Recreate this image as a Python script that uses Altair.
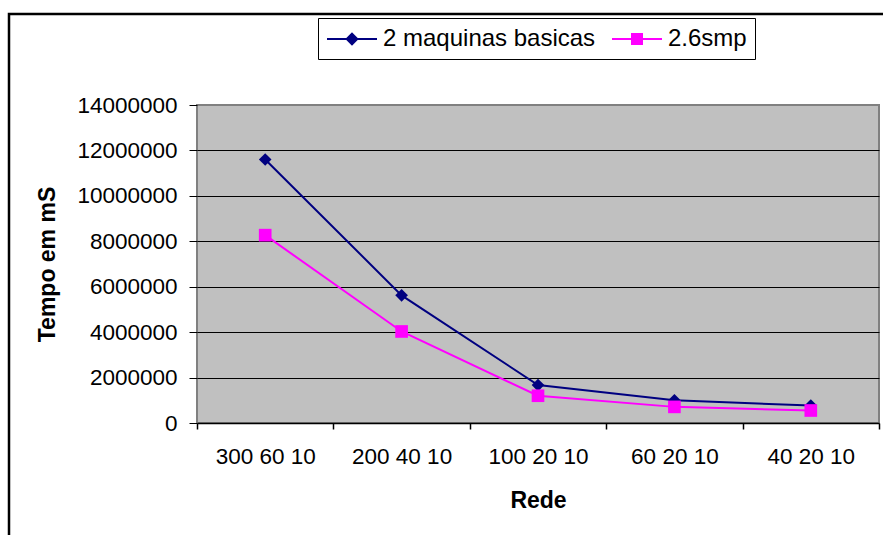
import altair as alt
import pandas as pd

categories = ["300 60 10", "200 40 10", "100 20 10", "60 20 10", "40 20 10"]
series_names = ["2 maquinas basicas", "2.6smp"]
basicas = [11600000, 5620000, 1670000, 1000000, 770000]
smp = [8270000, 4030000, 1200000, 710000, 550000]
colors = ["#000080", "#FF00FF"]
y_ticks = [0, 2000000, 4000000, 6000000, 8000000, 10000000, 12000000, 14000000]

rows = []
for c, v in zip(categories, basicas):
    rows.append({"Rede": c, "serie": series_names[0], "valor": v})
for c, v in zip(categories, smp):
    rows.append({"Rede": c, "serie": series_names[1], "valor": v})
df = pd.DataFrame(rows)

FONT = "Liberation Sans"

x_enc = alt.X(
    "Rede:N",
    sort=categories,
    scale=alt.Scale(type="band", paddingInner=0, paddingOuter=0),
    axis=alt.Axis(
        title="Rede",
        labelAngle=0,
        tickBand="extent",
        domainColor="black",
        domainWidth=1.5,
        tickColor="black",
        tickSize=6,
        tickWidth=1.5,
        labelPadding=16,
        titlePadding=22,
        grid=False,
    ),
)
y_enc = alt.Y(
    "valor:Q",
    scale=alt.Scale(domain=[0, 14000000], nice=False, zero=True),
    axis=alt.Axis(
        title="Tempo em mS",
        values=y_ticks,
        format="d",
        domain=False,
        tickColor="black",
        tickSize=8,
        tickWidth=1,
        labelPadding=12,
        titlePadding=17,
        grid=True,
        gridColor="black",
        gridWidth=1,
        gridOpacity={"condition": {"test": "datum.value >= 14000000 || datum.value <= 0", "value": 0}, "value": 1},
    ),
)

color_scale = alt.Scale(domain=series_names, range=colors)

lines = alt.Chart(df).mark_line(strokeWidth=2).encode(
    x=x_enc,
    y=y_enc,
    color=alt.Color("serie:N", scale=color_scale, legend=None),
)

points = alt.Chart(df).mark_point(filled=True, size=160, opacity=1).encode(
    x=x_enc,
    y=y_enc,
    color=alt.Color("serie:N", scale=color_scale, legend=None),
    shape=alt.Shape("serie:N", scale=alt.Scale(domain=series_names, range=["diamond", "square"]), legend=None),
)

# legend glyphs: a 50px line with a marker in its middle (unit = 12px)
legend_paths = [
    "M-1,0H3.1667M1.0833,-0.44L1.5233,0L1.0833,0.44L0.6433,0Z",
    "M-1,0H3.1667M0.6667,-0.4167H1.5V0.4167H0.6667Z",
]
leg = alt.Legend(
    title=None,
    orient="none",
    legendX=121,
    legendY=-87,
    direction="horizontal",
    fillColor="white",
    strokeColor="black",
    padding=8,
    symbolSize=576,
    symbolStrokeWidth=2,
    symbolOpacity=1,
    labelFont=FONT,
    labelFontSize=24,
    labelColor="black",
    labelOffset=31,
    labelLimit=500,
    columnPadding=12,
)
legend_layer = alt.Chart(df).mark_point(filled=True, opacity=1).encode(
    x=x_enc,
    y=y_enc,
    fill=alt.Fill("serie:N", scale=alt.Scale(domain=series_names, range=colors), legend=leg),
    stroke=alt.Stroke("serie:N", scale=alt.Scale(domain=series_names, range=colors), legend=leg),
    shape=alt.Shape("serie:N", scale=alt.Scale(domain=series_names, range=legend_paths), legend=leg),
).transform_filter("false")

frame = alt.Chart(alt.Data(values=[{"f": 1}])).mark_rect(
    fill=None, stroke="black", strokeWidth=2.5
).encode(
    x=alt.value(-188), x2=alt.value(760), y=alt.value(-91), y2=alt.value(470)
)

chart = alt.layer(frame, lines, points, legend_layer).resolve_scale(
    shape="independent", fill="independent", stroke="independent"
).properties(
    width=682,
    height=318,
    background="white",
    autosize=alt.AutoSizeParams(type="none"),
    padding={"left": 197, "top": 105, "right": 4, "bottom": 112},
).configure_view(
    fill="#C0C0C0", stroke="#808080", strokeWidth=2
).configure_axis(
    labelFont=FONT,
    labelFontSize=22.5,
    labelColor="black",
    titleFont=FONT,
    titleFontSize=23,
    titleFontWeight="bold",
    titleColor="black",
)

chart.save("out.html", embed_options={"renderer": "svg", "actions": False})
